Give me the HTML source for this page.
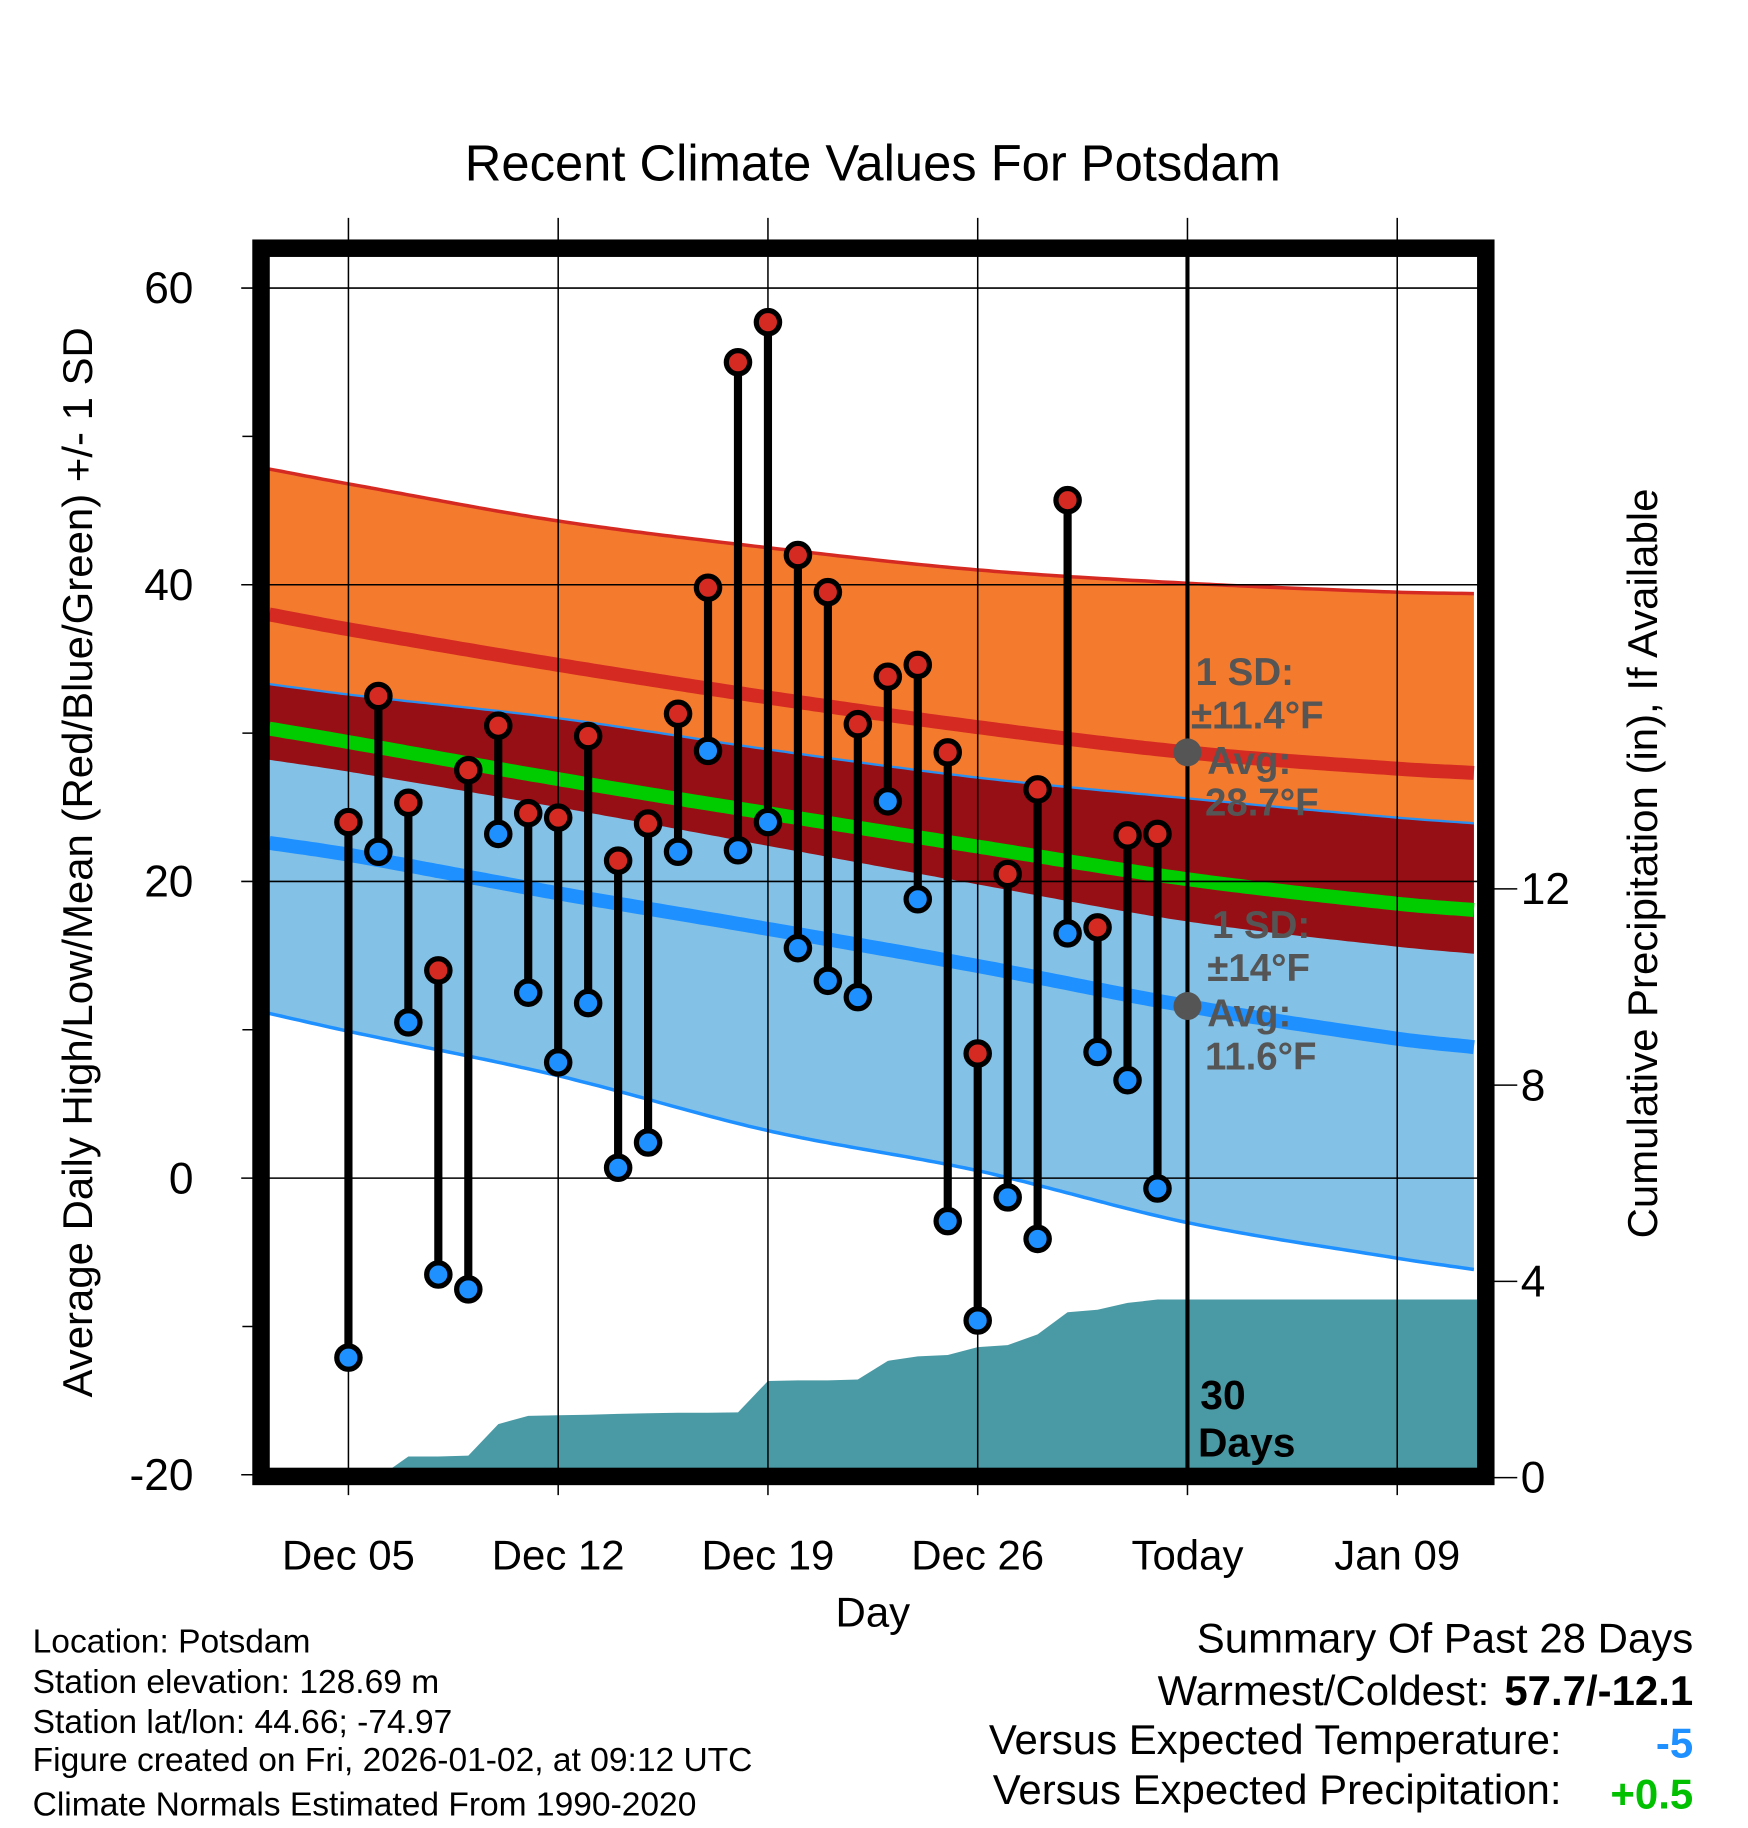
<!DOCTYPE html>
<html><head><meta charset="utf-8"><style>
html,body{margin:0;padding:0;background:#fff;}
svg{display:block;font-family:"Liberation Sans",Arial,sans-serif;}
</style></head><body>
<svg id="chart" xmlns="http://www.w3.org/2000/svg" width="1748" height="1828" viewBox="0 0 1500 1568.7" preserveAspectRatio="none">
<g id="layers"></g>
</svg>
<script>
// ---- data ----
const normDays   = [2.36, 5, 12, 19, 26, 33, 40, 42.7];
const hiUpper    = [47.8, 46.8, 44.3, 42.5, 41.0, 40.1, 39.5, 39.4];
const hiMean     = [38.0, 37.0, 34.6, 32.4, 30.4, 28.7, 27.6, 27.3];
const hiLower    = [28.2, 27.4, 25.0, 22.4, 19.8, 17.3, 15.6, 15.1];
const loUpper    = [33.3, 32.6, 31.0, 28.9, 27.0, 25.6, 24.3, 23.9];
const loMean     = [22.6, 21.8, 19.2, 16.8, 14.3, 11.6, 9.4, 8.8];
const loLower    = [11.1, 9.9, 6.9, 3.2, 0.5, -3.0, -5.4, -6.2];
const obsDays    = [5,6,7,8,9,10,11,12,13,14,15,16,17,18,19,20,21,22,23,24,25,26,27,28,29,30,31,32];
const obsHigh    = [24,32.5,25.3,14,27.5,30.5,24.6,24.3,29.8,21.4,23.9,31.3,39.8,55,57.7,42,39.5,30.6,33.8,34.6,28.7,8.4,20.5,26.2,45.7,16.9,23.1,23.2];
const obsLow     = [-12.1,22,10.5,-6.5,-7.5,23.2,12.5,7.8,11.8,0.7,2.4,22,28.8,22.1,24,15.5,13.3,12.2,25.4,18.8,-2.9,-9.6,-1.3,-4.1,16.5,8.5,6.6,-0.7];
const precipDays = [2.36,6,7,8,9,10,11,12,13,14,15,16,17,18,19,20,21,22,23,24,25,26,27,28,29,30,31,32,42.7];
const precipCum  = [0,0,0.43,0.43,0.45,1.09,1.26,1.27,1.28,1.3,1.31,1.32,1.32,1.33,1.97,1.98,1.98,2.0,2.38,2.47,2.5,2.66,2.7,2.92,3.37,3.42,3.56,3.63,3.63];
const xTickDays  = [5,12,19,26,33,40];
const xTickLabels= ["Dec 05","Dec 12","Dec 19","Dec 26","Today","Jan 09"];
const yTicks     = [60,40,20,0,-20];
const yMinor     = [50,30,10,-10];
const pTicks     = [0,4,8,12];

// ---- axes ----
const X = d => 299 + (d-5)*25.714;
const Y = v => 1011 - 12.73*v;
const P = p => 1268 - 42.1*p;
const NS = "http://www.w3.org/2000/svg";
const g = document.getElementById('layers');
function mk(tag, attrs, parent){const e=document.createElementNS(NS,tag);for(const k in attrs)e.setAttribute(k,attrs[k]);(parent||g).appendChild(e);return e;}
function txt(s,attrs){const e=mk('text',attrs);e.textContent=s;return e;}
// smooth (Catmull-Rom style) interpolation
function interp(arr, d){
 const n=normDays.length;let i=0;
 while(i<n-2 && d>normDays[i+1]) i++;
 const t=(d-normDays[i])/(normDays[i+1]-normDays[i]);
 const h=normDays[i+1]-normDays[i];
 const m0 = i>0 ? (arr[i+1]-arr[i-1])/(normDays[i+1]-normDays[i-1]) : (arr[i+1]-arr[i])/h;
 const m1 = i<n-2 ? (arr[i+2]-arr[i])/(normDays[i+2]-normDays[i]) : (arr[i+1]-arr[i])/h;
 const t2=t*t,t3=t2*t;
 return (2*t3-3*t2+1)*arr[i]+(t3-2*t2+t)*h*m0+(-2*t3+3*t2)*arr[i+1]+(t3-t2)*h*m1;
}
const samp=[];for(let d=normDays[0];d<=normDays[normDays.length-1]+0.001;d+=0.2)samp.push(d);
const f = {
 hu:d=>interp(hiUpper,d), hm:d=>interp(hiMean,d), hl:d=>interp(hiLower,d),
 lu:d=>interp(loUpper,d), lm:d=>interp(loMean,d), ll:d=>interp(loLower,d),
 gm:d=>(interp(hiMean,d)+interp(loMean,d))/2
};
const line = fn => samp.map(d=>X(d).toFixed(1)+','+Y(fn(d)).toFixed(1)).join(' ');
const band = (a,b) => samp.map(d=>X(d).toFixed(1)+','+Y(a(d)).toFixed(1)).concat(samp.slice().reverse().map(d=>X(d).toFixed(1)+','+Y(b(d)).toFixed(1))).join(' ');

// title
let t=txt("Recent Climate Values For Potsdam",{x:749,y:155,'text-anchor':'middle','font-size':43.5});


// bands
let e;
e=mk('polygon',{points:band(f.hu,f.hl),fill:'#f47a2e'});
e=mk('polygon',{points:band(f.lu,f.ll),fill:'#83c1e6'});
e=mk('polygon',{points:band(f.lu,f.hl),fill:'#960f14'});
mk('polyline',{points:line(f.hu),fill:'none',stroke:'#d42a22','stroke-width':3});
mk('polyline',{points:line(f.lu),fill:'none',stroke:'#2b8ff0','stroke-width':2});
mk('polyline',{points:line(f.ll),fill:'none',stroke:'#1e90ff','stroke-width':3});
e=mk('polyline',{points:line(f.hm),fill:'none',stroke:'#d42a22','stroke-width':12});
e=mk('polyline',{points:line(f.lm),fill:'none',stroke:'#1e90ff','stroke-width':12});
e=mk('polyline',{points:line(f.gm),fill:'none',stroke:'#00cc00','stroke-width':12});

// precip area
const pp=precipDays.map((d,i)=>X(d).toFixed(1)+','+P(precipCum[i]).toFixed(1));
pp.push(X(precipDays[precipDays.length-1]).toFixed(1)+','+P(0));pp.push(X(precipDays[0]).toFixed(1)+','+P(0));
e=mk('polygon',{points:pp.join(' '),fill:'#4a9aa5'});

// grid
xTickDays.forEach(d=>{mk('line',{x1:X(d),x2:X(d),y1:187,y2:1283,stroke:'#000','stroke-width':1.3});});
yTicks.forEach(v=>{mk('line',{x1:207,x2:1276,y1:Y(v),y2:Y(v),stroke:'#000','stroke-width':1.3});});
yMinor.forEach(v=>{mk('line',{x1:208,x2:222,y1:Y(v),y2:Y(v),stroke:'#000','stroke-width':1.3});});
pTicks.forEach(p=>{mk('line',{x1:1276,x2:1302,y1:P(p),y2:P(p),stroke:'#000','stroke-width':1.3});});

// today line
e=mk('line',{x1:X(33),x2:X(33),y1:212,y2:1268,stroke:'#000','stroke-width':3.5});

// stems & points
obsDays.forEach((d,i)=>{
 const s=mk('line',{x1:X(d),x2:X(d),y1:Y(obsHigh[i]),y2:Y(obsLow[i]),stroke:'#000','stroke-width':7});
 
});
obsDays.forEach((d,i)=>{
 const h=mk('circle',{cx:X(d),cy:Y(obsHigh[i]),r:10,fill:'#d42a22',stroke:'#000','stroke-width':4.5});
 
 const l=mk('circle',{cx:X(d),cy:Y(obsLow[i]),r:10,fill:'#1e90ff',stroke:'#000','stroke-width':4.5});
 
});

// annotations
const ax=X(33);
mk('circle',{cx:ax,cy:Y(28.7),r:12,fill:'#555'});
mk('circle',{cx:ax,cy:Y(11.6),r:12,fill:'#555'});
const ann=[["1 SD:",1026,588],["±11.4°F",1022,625],["Avg:",1036,664],["28.7°F",1034,700],["1 SD:",1040,805],["±14°F",1036,842],["Avg:",1036,881],["11.6°F",1034,918]];
ann.forEach(a=>{const n=txt(a[0],{x:a[1],y:a[2],'font-size':33,'font-weight':'bold',fill:'#555'});});
e=txt("30",{x:1030,y:1209,'font-size':35,'font-weight':'bold'});
e=txt("Days",{x:1028,y:1250,'font-size':35,'font-weight':'bold'});

// frame
e=mk('rect',{x:224,y:213,width:1051,height:1054,fill:'none',stroke:'#000','stroke-width':15});

// tick labels
yTicks.forEach(v=>{const n=txt(String(v),{x:166,y:Y(v)+13,'text-anchor':'end','font-size':38});});
pTicks.forEach(p=>{const n=txt(String(p),{x:1305,y:P(p)+13,'font-size':38});});
xTickDays.forEach((d,i)=>{const n=txt(xTickLabels[i],{x:X(d),y:1347,'text-anchor':'middle','font-size':36});});
e=txt("Day",{x:749,y:1396,'text-anchor':'middle','font-size':36});
e=txt("Average Daily High/Low/Mean (Red/Blue/Green) +/- 1 SD",{x:0,y:0,'text-anchor':'middle','font-size':36,transform:'translate(79,740) rotate(-90)'});
e=txt("Cumulative Precipitation (in), If Available",{x:0,y:0,'text-anchor':'middle','font-size':36,transform:'translate(1422,741) rotate(-90)'});

// footer
const info=[["Location: Potsdam",1418],["Station elevation: 128.69 m",1453],["Station lat/lon: 44.66; -74.97",1487],["Figure created on Fri, 2026-01-02, at 09:12 UTC",1520],["Climate Normals Estimated From 1990-2020",1558]];
info.forEach(a=>{const n=txt(a[0],{x:28,y:a[1],'font-size':28.8});});
e=txt("Summary Of Past 28 Days",{x:1453,y:1418,'text-anchor':'end','font-size':36});
e=txt("Warmest/Coldest:",{x:1278,y:1463,'text-anchor':'end','font-size':36});
e=txt("57.7/-12.1",{x:1453,y:1463,'text-anchor':'end','font-size':36,'font-weight':'bold'});
e=txt("Versus Expected Temperature:",{x:1340,y:1505,'text-anchor':'end','font-size':36});
e=txt("-5",{x:1453,y:1508,'text-anchor':'end','font-size':36,'font-weight':'bold',fill:'#1e90ff'});
e=txt("Versus Expected Precipitation:",{x:1340,y:1548,'text-anchor':'end','font-size':36});
e=txt("+0.5",{x:1453,y:1552,'text-anchor':'end','font-size':36,'font-weight':'bold',fill:'#00c000'});
</script>
</body></html>
